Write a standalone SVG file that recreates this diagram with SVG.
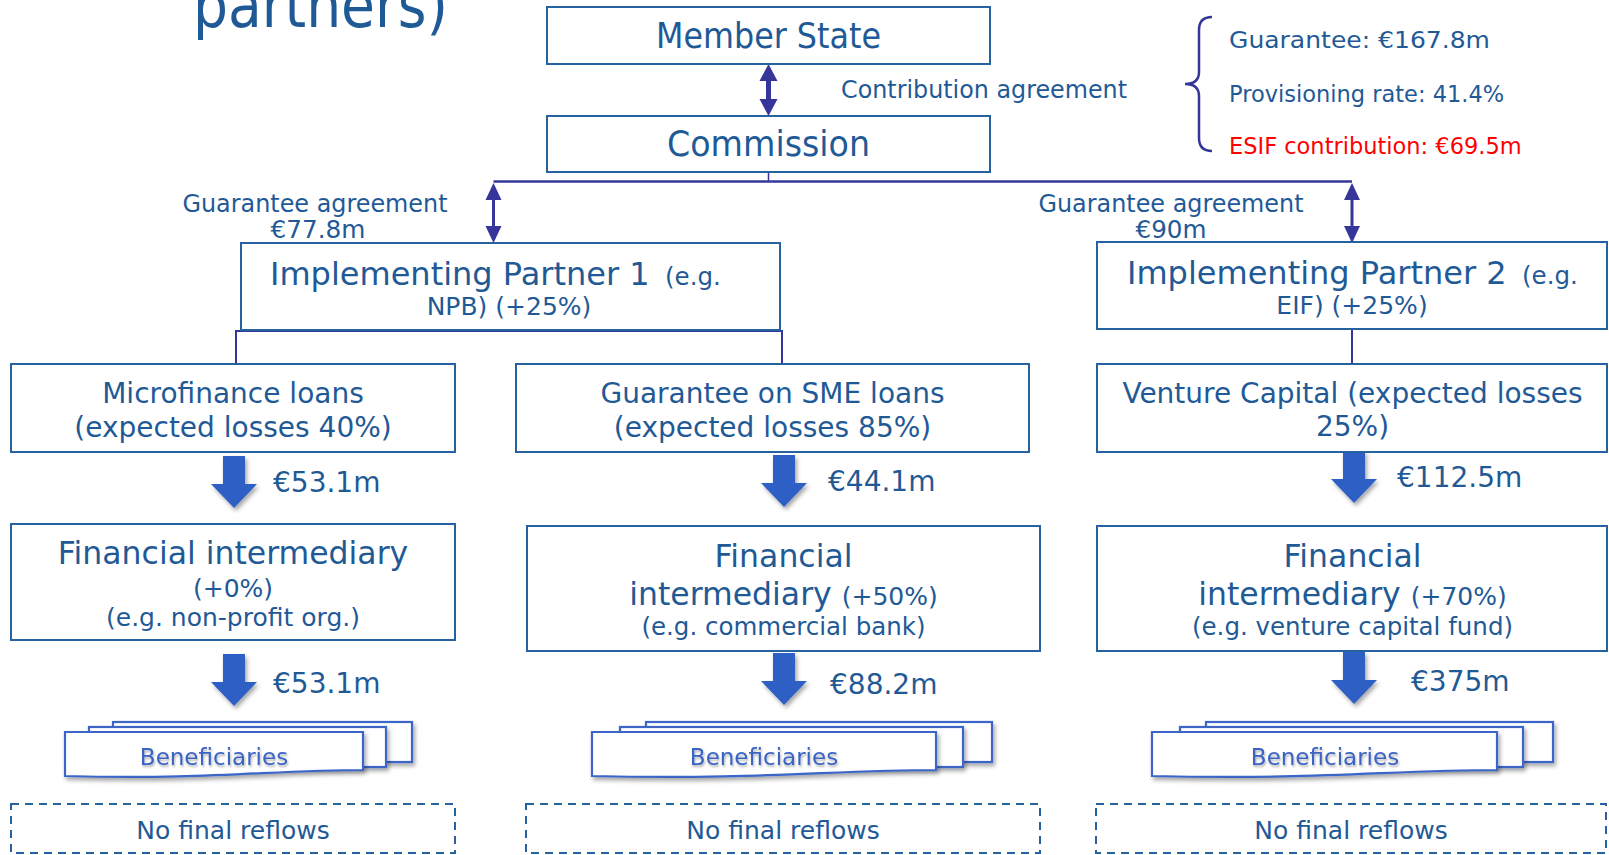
<svg xmlns="http://www.w3.org/2000/svg" width="1609" height="855" viewBox="0 0 1609 855">
<defs>
<filter id="sh" x="-30%" y="-30%" width="160%" height="160%">
<feDropShadow dx="2" dy="3" stdDeviation="2" flood-color="#000" flood-opacity="0.35"/>
</filter>
<filter id="tsh" x="-10%" y="-30%" width="120%" height="160%">
<feDropShadow dx="1" dy="2" stdDeviation="1.2" flood-color="#000" flood-opacity="0.3"/>
</filter>
<path id="blk" d="M-11,0 H11 V28 H23 L0,52 L-23,28 H-11 Z"/>
</defs>
<style>
.t{font-family:'DejaVu Sans',Verdana,sans-serif;fill:#1F5A96}
.m{text-anchor:middle}
.box{fill:#fff;stroke:#2661A0;stroke-width:2}
.conn{stroke:#36369A;fill:none}
.head{fill:#36369A}
.blk{fill:#2E5FC4;filter:url(#sh)}
.ben{fill:#fff;stroke:#3A66C8;stroke-width:2.2;filter:url(#sh)}
.bt{font-family:'DejaVu Sans',Verdana,sans-serif;fill:#3A64C4;font-size:23px;text-anchor:middle;filter:url(#tsh)}
.dash{fill:none;stroke:#2661A0;stroke-width:2;stroke-dasharray:8 6}
</style>
<rect width="1609" height="855" fill="#fff"/>
<text class="t" x="193" y="27" font-size="62" textLength="255" lengthAdjust="spacingAndGlyphs">partners)</text>

<g id="connectors">
<line class="conn" x1="768.5" y1="78" x2="768.5" y2="102" stroke-width="5"/>
<polygon class="head" points="768.5,64 759.5,81 777.5,81"/>
<polygon class="head" points="768.5,116 759.5,99 777.5,99"/>
<line class="conn" x1="768.5" y1="172" x2="768.5" y2="181.5" stroke-width="1.5"/>
<line class="conn" x1="493.5" y1="181.5" x2="1352" y2="181.5" stroke-width="2.5"/>
<line class="conn" x1="493.5" y1="196" x2="493.5" y2="229" stroke-width="3"/>
<polygon class="head" points="493.5,183 485.5,200 501.5,200"/>
<polygon class="head" points="493.5,243 485.5,226 501.5,226"/>
<line class="conn" x1="1352" y1="196" x2="1352" y2="229" stroke-width="3"/>
<polygon class="head" points="1352,183 1344,200 1360,200"/>
<polygon class="head" points="1352,243 1344,226 1360,226"/>
<path class="conn" d="M236,364 V331 H782 V364" stroke-width="2"/>
<line class="conn" x1="1352" y1="313" x2="1352" y2="364" stroke-width="2"/>
<path class="conn" d="M1212,17 Q1199,17 1199,30 V72 Q1199,84 1185,84 Q1199,84 1199,96 V138 Q1199,151 1212,151" stroke-width="2.5"/>
<use href="#blk" class="blk" x="234" y="456"/>
<use href="#blk" class="blk" x="784" y="455"/>
<use href="#blk" class="blk" x="1354" y="451"/>
<use href="#blk" class="blk" x="234" y="654"/>
<use href="#blk" class="blk" x="784" y="653"/>
<use href="#blk" class="blk" x="1354" y="652"/>
</g>

<g id="member-state">
<rect class="box" x="547" y="7" width="443" height="57"/>
<text class="t m" x="768.5" y="48" font-size="35" textLength="225" lengthAdjust="spacingAndGlyphs">Member State</text>
</g>
<g id="contribution-label">
<text class="t" x="841" y="98" font-size="25" textLength="286" lengthAdjust="spacingAndGlyphs">Contribution agreement</text>
</g>
<g id="commission">
<rect class="box" x="547" y="116" width="443" height="56"/>
<text class="t m" x="768.5" y="156" font-size="35" textLength="203" lengthAdjust="spacingAndGlyphs">Commission</text>
</g>
<g id="summary">
<text class="t" x="1229" y="48" font-size="22.5" textLength="261" lengthAdjust="spacingAndGlyphs">Guarantee: €167.8m</text>
<text class="t" x="1229" y="102" font-size="22.5">Provisioning rate: 41.4%</text>
<text class="t" x="1229" y="154" font-size="22.5" style="fill:#FF0000">ESIF contribution: €69.5m</text>
</g>
<g id="guarantee-label-1">
<text class="t m" x="315" y="212" font-size="25" textLength="265" lengthAdjust="spacingAndGlyphs">Guarantee agreement</text>
<text class="t m" x="318" y="238" font-size="25" textLength="95" lengthAdjust="spacingAndGlyphs">€77.8m</text>
</g>
<g id="guarantee-label-2">
<text class="t m" x="1171" y="212" font-size="25" textLength="265" lengthAdjust="spacingAndGlyphs">Guarantee agreement</text>
<text class="t m" x="1171" y="238" font-size="25" textLength="71" lengthAdjust="spacingAndGlyphs">€90m</text>
</g>
<g id="ip1">
<rect class="box" x="241" y="243" width="539" height="87"/>
<text class="t" x="270" y="285" font-size="32">Implementing Partner 1<tspan x="665" font-size="24.5">(e.g.</tspan></text>
<text class="t m" x="509" y="315" font-size="25">NPB) (+25%)</text>
</g>
<g id="ip2">
<rect class="box" x="1097" y="242" width="510" height="87"/>
<text class="t" x="1127" y="284" font-size="32">Implementing Partner 2<tspan x="1522" font-size="24.5">(e.g.</tspan></text>
<text class="t m" x="1352" y="314" font-size="25">EIF) (+25%)</text>
</g>
<g id="microfinance">
<rect class="box" x="11" y="364" width="444" height="88"/>
<text class="t m" x="233" y="403" font-size="28">Microfinance loans</text>
<text class="t m" x="233" y="437" font-size="28">(expected losses 40%)</text>
</g>
<g id="sme">
<rect class="box" x="516" y="364" width="513" height="88"/>
<text class="t m" x="772.5" y="403" font-size="28">Guarantee on SME loans</text>
<text class="t m" x="772.5" y="437" font-size="28">(expected losses 85%)</text>
</g>
<g id="venture">
<rect class="box" x="1097" y="364" width="510" height="88"/>
<text class="t m" x="1352.5" y="403" font-size="28">Venture Capital (expected losses</text>
<text class="t m" x="1352.5" y="436" font-size="28">25%)</text>
</g>
<g id="amounts">
<text class="t" x="273" y="492" font-size="28">€53.1m</text>
<text class="t" x="828" y="491" font-size="28">€44.1m</text>
<text class="t" x="1397" y="487" font-size="28">€112.5m</text>
<text class="t" x="273" y="693" font-size="28">€53.1m</text>
<text class="t" x="830" y="694" font-size="28">€88.2m</text>
<text class="t" x="1411" y="691" font-size="28">€375m</text>
</g>
<g id="fi1">
<rect class="box" x="11" y="524" width="444" height="116"/>
<text class="t m" x="233" y="564" font-size="31.5">Financial intermediary</text>
<text class="t m" x="233" y="597" font-size="25">(+0%)</text>
<text class="t m" x="233" y="626" font-size="25">(e.g. non-profit org.)</text>
</g>
<g id="fi2">
<rect class="box" x="527" y="526" width="513" height="125"/>
<text class="t m" x="783.5" y="567" font-size="31.5">Financial</text>
<text class="t m" x="783.5" y="605" font-size="31.5">intermediary <tspan font-size="25">(+50%)</tspan></text>
<text class="t m" x="783.5" y="635" font-size="24.5">(e.g. commercial bank)</text>
</g>
<g id="fi3">
<rect class="box" x="1097" y="526" width="510" height="125"/>
<text class="t m" x="1352.5" y="567" font-size="31.5">Financial</text>
<text class="t m" x="1352.5" y="605" font-size="31.5">intermediary <tspan font-size="25">(+70%)</tspan></text>
<text class="t m" x="1352.5" y="635" font-size="24.5">(e.g. venture capital fund)</text>
</g>
<g id="beneficiaries-1">
<rect class="ben" x="113" y="722" width="299" height="40"/>
<rect class="ben" x="89" y="727" width="297" height="40"/>
<path class="ben" d="M65,732 H363 V770 C270,770 210,780 65,776 Z"/>
<text class="bt" x="214" y="765">Beneficiaries</text>
</g>
<g id="beneficiaries-2">
<rect class="ben" x="646" y="722" width="346" height="40"/>
<rect class="ben" x="620" y="727" width="343" height="40"/>
<path class="ben" d="M592,732 H936 V770 C830,770 760,780 592,776 Z"/>
<text class="bt" x="764" y="765">Beneficiaries</text>
</g>
<g id="beneficiaries-3">
<rect class="ben" x="1206" y="722" width="347" height="40"/>
<rect class="ben" x="1180" y="727" width="343" height="40"/>
<path class="ben" d="M1152,732 H1497 V770 C1390,770 1320,780 1152,776 Z"/>
<text class="bt" x="1325" y="765">Beneficiaries</text>
</g>
<g id="reflows-1">
<rect class="dash" x="11" y="804" width="444" height="49"/>
<text class="t m" x="233" y="839" font-size="25">No final reflows</text>
</g>
<g id="reflows-2">
<rect class="dash" x="526" y="804" width="514" height="49"/>
<text class="t m" x="783" y="839" font-size="25">No final reflows</text>
</g>
<g id="reflows-3">
<rect class="dash" x="1096" y="804" width="510" height="49"/>
<text class="t m" x="1351" y="839" font-size="25">No final reflows</text>
</g>
</svg>
